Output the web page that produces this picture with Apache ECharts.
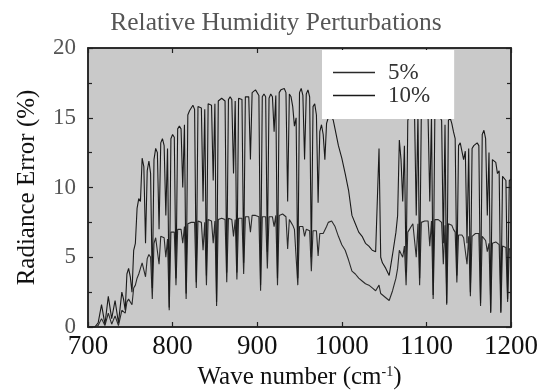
<!DOCTYPE html>
<html>
<head>
<meta charset="utf-8">
<script src="https://cdn.jsdelivr.net/npm/echarts@6/dist/echarts.min.js"></script>
<style>
html,body{margin:0;padding:0;background:#fff;}
#chart{width:542px;height:391px;}
</style>
</head>
<body>
<div id="chart"></div>
<script>
// Wave numbers (cm^-1)
var waveNumbers = [
700,704,708,712,716,720,724,728,732,736,
740,742,744,746,748,750,752,754,756,758,
760,762,764,766,768,770,772,774,776,778,
780,782,784,786,788,790,792,794,796,798,
800,802,804,806,808,810,812,814,816,818,
820,822,824,826,828,830,832,834,836,838,
840,842,844,846,848,850,852,854,856,858,
860,862,864,866,868,870,872,874,876,878,
880,882,884,886,888,890,892,894,896,898,
900,902,904,906,908,910,912,914,916,918,
920,922,924,926,928,930,932,934,936,938,
940,942,944,946,948,950,952,954,956,958,
960,962,964,966,968,970,972,974,976,978,
980,982,984,986,988,990,992,996,1000,1004,
1008,1012,1016,1020,1024,1028,1032,1036,1040,1042,
1044,1046,1048,1052,1056,1060,1064,1066,1068,1070,
1072,1074,1076,1078,1080,1082,1084,1086,1088,1090,
1092,1094,1096,1098,1100,1102,1104,1106,1108,1110,
1112,1114,1116,1118,1120,1122,1124,1126,1128,1130,
1132,1134,1136,1138,1140,1142,1144,1146,1148,1150,
1152,1154,1156,1158,1160,1162,1164,1166,1168,1170,
1172,1174,1176,1178,1180,1182,1184,1186,1188,1190,
1192,1194,1196,1198,1200];
// Radiance error (%) for the 10% RH perturbation
var rh10 = [
0,0,0,0.3,1.6,0.2,2.2,0.6,1.9,0.3,
2.5,2.0,1.2,3.8,4.2,3.6,2.5,5.5,6.0,8.5,
9.2,9.0,12.1,11.5,6.0,11.2,11.9,11.0,2.8,12.0,
12.8,12.5,7.0,13.2,13.5,13.0,8.0,12.8,1.4,13.5,
13.8,13.6,3.5,14.2,14.4,14.2,10.0,14.5,2.4,15.2,
15.5,15.7,15.9,15.6,3.2,15.8,15.9,15.7,9.0,15.6,
3.7,16.0,16.1,15.9,10.5,16.0,1.8,16.2,16.3,16.4,
16.4,16.2,3.9,16.3,16.5,16.3,11.0,16.2,3.9,16.4,
16.5,16.3,4.6,16.5,16.6,16.5,12.0,16.8,16.9,17.0,
16.9,16.6,3.0,16.5,16.7,16.5,5.4,16.4,16.7,16.5,
14.0,16.6,3.5,16.8,17.0,17.1,17.1,16.8,9.0,16.7,
16.5,15.8,14.4,15.0,3.5,16.8,17.1,16.6,12.0,16.7,
17.0,16.5,5.0,15.8,16.0,15.2,8.9,14.0,14.5,13.8,
12.0,14.6,15.0,15.1,15.1,14.8,14.2,13.0,12.1,11.0,
9.8,8.0,7.4,6.8,6.5,6.0,5.8,5.5,5.4,5.3,
12.8,5.0,4.6,4.2,3.7,5.2,6.8,8.0,13.4,12.0,
9.0,13.0,3.9,14.8,15.3,15.4,15.5,15.2,8.0,15.3,
3.5,15.4,15.5,15.4,15.3,15.0,9.0,15.1,2.3,15.3,
15.4,15.3,15.2,14.8,6.0,14.5,1.7,14.8,15.0,14.6,
14.0,13.5,3.7,13.0,13.2,13.2,12.0,12.6,6.0,12.8,
2.5,12.8,13.0,13.1,13.2,13.0,1.7,13.8,14.1,13.5,
8.0,12.5,1.1,12.0,12.1,11.8,11.0,11.2,1.1,10.8,
10.7,10.5,2.0,10.5,10.6];
// Radiance error (%) for the 5% RH perturbation
var rh5 = [
0,0,0,0.1,0.6,0.1,1.0,0.2,0.8,0.1,
1.2,1.1,1.0,1.8,2.0,1.9,1.6,2.8,3.0,3.5,
3.8,4.2,4.6,4.5,3.6,4.9,5.2,5.0,2.0,6.0,
6.4,6.3,4.5,6.5,6.6,6.4,5.0,6.3,1.2,6.8,
6.9,6.8,3.0,7.0,7.1,7.0,6.0,7.2,2.0,7.4,
7.5,7.5,7.6,7.5,2.8,7.6,7.6,7.5,5.5,7.5,
3.0,7.7,7.7,7.6,6.0,7.6,1.5,7.7,7.7,7.8,
7.8,7.7,3.2,7.8,7.8,7.7,6.5,7.7,3.4,7.8,
7.8,7.8,3.8,7.9,7.9,7.9,6.8,8.0,8.0,8.0,
8.0,7.9,2.6,7.9,8.0,7.9,4.2,7.9,8.0,7.9,
7.2,8.0,3.0,8.0,8.1,8.1,8.0,7.9,5.6,7.7,
7.5,7.3,7.0,7.1,3.0,7.2,7.3,7.2,6.5,7.0,
7.0,6.9,4.0,6.9,7.0,6.9,5.1,6.7,6.8,6.7,
6.6,7.2,7.5,7.6,7.6,7.5,7.2,6.5,5.9,5.5,
4.8,4.0,3.8,3.5,3.3,3.1,3.0,2.8,2.6,2.6,
3.0,2.4,2.3,2.1,1.9,2.6,3.5,4.2,5.5,5.4,
5.0,5.8,3.0,6.8,7.0,7.2,7.4,7.3,5.0,7.4,
3.0,7.5,7.6,7.6,7.7,7.6,5.8,7.6,2.0,7.7,
7.8,7.7,7.6,7.5,4.5,7.3,1.6,7.4,7.5,7.3,
7.0,6.8,3.2,6.6,6.6,6.6,6.4,6.5,4.5,6.5,
2.2,6.5,6.5,6.7,6.8,6.7,1.5,6.5,6.5,6.2,
5.4,6.0,1.0,6.0,6.1,6.1,6.0,5.9,1.0,5.8,
5.8,5.7,1.8,5.6,5.6];
var seriesNames = ['5%', '10%'];
var xTicks = [700, 800, 900, 1000, 1100, 1200];
var yTicks = [0, 5, 10, 15, 20];

function pairs(ys) { return waveNumbers.map(function (x, i) { return [x, ys[i]]; }); }

var serif = 'Liberation Serif';
var chart = echarts.init(document.getElementById('chart'), null, {renderer: 'canvas'});

var baseX = {
  type: 'value', min: xTicks[0], max: xTicks[xTicks.length - 1], interval: 100,
  axisLine: {show: true, onZero: false, lineStyle: {color: '#222', width: 1.5}},
  axisTick: {show: true, inside: true, length: 5, lineStyle: {color: '#222', width: 1.2}},
  splitLine: {show: false}
};
var baseY = {
  type: 'value', min: yTicks[0], max: yTicks[yTicks.length - 1], interval: 5,
  axisLine: {show: true, lineStyle: {color: '#222', width: 1.5}},
  axisTick: {show: true, inside: true, length: 5, lineStyle: {color: '#222', width: 1.2}},
  minorTick: {show: true, splitNumber: 2, length: 4, lineStyle: {color: '#222', width: 1.2}},
  splitLine: {show: false}
};

var option = {
  backgroundColor: '#ffffff',
  animation: false,
  title: {
    text: 'Relative Humidity Perturbations',
    left: 271, top: 5, textAlign: 'center',
    textStyle: {fontFamily: serif, fontSize: 25.5, fontWeight: 'normal', color: '#555'}
  },
  grid: {
    left: 88, right: 31, top: 48, bottom: 64,
    outerBoundsMode: 'none', containLabel: false,
    show: true, backgroundColor: '#c9c9c9', borderColor: '#222', borderWidth: 1.5
  },
  legend: {
    data: seriesNames,
    left: 322, top: 50,
    orient: 'vertical',
    backgroundColor: '#ffffff',
    padding: [11, 24, 12, 11],
    icon: 'rect',
    itemWidth: 42, itemHeight: 1.5, itemGap: 0,
    textStyle: {fontFamily: serif, fontSize: 23, lineHeight: 20, color: '#333', padding: [0, 0, 0, 8]}
  },
  xAxis: [
    Object.assign({}, baseX, {
      position: 'bottom',
      name: 'Wave number (cm{sup|-1})',
      nameLocation: 'middle', nameGap: 37,
      nameTextStyle: {fontFamily: serif, fontSize: 25, color: '#111',
        rich: {sup: {fontFamily: serif, fontSize: 14, verticalAlign: 'top', padding: [0, 0, 12, 0], color: '#111'}}},
      axisLabel: {show: true, margin: 6, fontFamily: serif, fontSize: 27, color: '#111',
        formatter: function (v) { return String(v); }}
    }),
    Object.assign({}, baseX, {position: 'top', axisLabel: {show: false}})
  ],
  yAxis: [
    Object.assign({}, baseY, {
      position: 'left',
      name: 'Radiance Error (%)',
      nameLocation: 'middle', nameGap: 48, nameRotate: 90,
      nameTextStyle: {fontFamily: serif, fontSize: 25, color: '#111'},
      axisLabel: {show: true, margin: 12, fontFamily: serif, fontSize: 23, color: '#555'}
    }),
    Object.assign({}, baseY, {position: 'right', axisLabel: {show: false}})
  ],
  series: [
    {
      name: seriesNames[0], type: 'line', data: pairs(rh5),
      symbol: 'none', showSymbol: false,
      lineStyle: {color: '#2a2a2a', width: 1.1}, itemStyle: {color: '#2a2a2a'}
    },
    {
      name: seriesNames[1], type: 'line', data: pairs(rh10),
      symbol: 'none', showSymbol: false,
      lineStyle: {color: '#1a1a1a', width: 1.1}, itemStyle: {color: '#1a1a1a'}
    }
  ]
};
chart.setOption(option);
</script>
</body>
</html>
